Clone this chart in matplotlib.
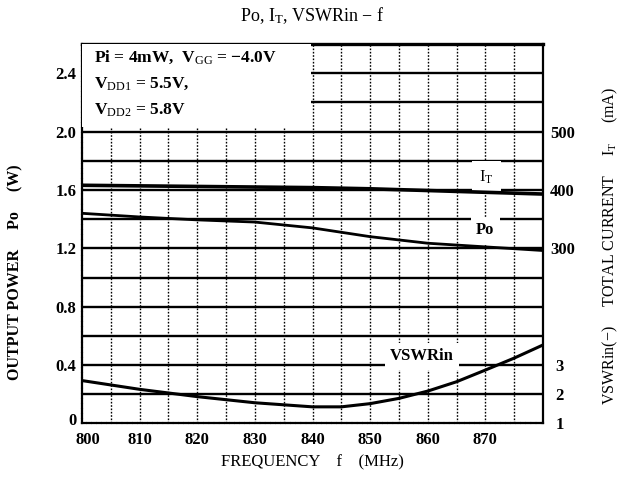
import matplotlib
matplotlib.use("Agg")
import matplotlib.pyplot as plt
import matplotlib.transforms as mtransforms
import numpy as np

# ---- data ----
freq = [800, 810, 820, 830, 840, 850, 860, 870, 880]
po_w = [1.44, 1.415, 1.395, 1.38, 1.34, 1.28, 1.235, 1.21, 1.185]
it_ma = [408, 407, 406, 405, 404, 402, 399, 396, 393]
vswr_freq = [800, 810, 820, 830, 840, 845, 850, 855, 860, 865, 870, 875, 880]
vswr = [2.47, 2.17, 1.92, 1.71, 1.57, 1.57, 1.68, 1.86, 2.11, 2.43, 2.83, 3.24, 3.69]

x_ticks = [800, 810, 820, 830, 840, 850, 860, 870]
po_ticks = [0, 0.4, 0.8, 1.2, 1.6, 2.0, 2.4]
po_tick_labels = ["0", "0.4", "0.8", "1.2", "1.6", "2.0", "2.4"]
it_ticks = [300, 400, 500]
vswr_ticks = [1, 2, 3]

plt.rcParams['font.family'] = ['Liberation Serif', 'DejaVu Serif']
plt.rcParams['mathtext.fontset'] = 'custom'
plt.rcParams['mathtext.rm'] = 'Liberation Serif'
plt.rcParams['mathtext.it'] = 'Liberation Serif:italic'
plt.rcParams['mathtext.bf'] = 'Liberation Serif:bold'

fig = plt.figure(figsize=(6.25, 4.91), dpi=100)
ax = fig.add_axes([0.1312, 0.1375, 0.7376, 0.7729])
ax.set_xlim(800, 880)
ax.set_ylim(0, 2.6)

# grid: solid horizontal every 0.2 W, dotted vertical every 5 MHz
for y in np.arange(0.2, 2.41, 0.2):
    ax.axhline(y, color='black', lw=1.7, zorder=1)
for x in np.arange(805, 880, 5):
    ax.axvline(x, color='black', lw=1.0, ls=(0, (1.2, 1.2)), zorder=1)

for s in ax.spines.values():
    s.set_linewidth(1.6)
ax.spines['top'].set_linewidth(2.4)
ax.spines['left'].set_linestyle((0, (1.5, 0.8)))
ax.spines['bottom'].set_linestyle((0, (1.5, 0.8)))

ax.plot(freq, po_w, color='black', lw=2.0, zorder=3)

ax.set_xticks(x_ticks)
ax.set_xticklabels([str(v) for v in x_ticks], fontsize=12, fontweight='bold')
ax.set_yticks(po_ticks)
ax.set_yticklabels(po_tick_labels, fontsize=12, fontweight='bold')
ax.tick_params(axis='x', length=0, pad=6)
ax.tick_params(axis='y', length=0, pad=4)

# nudge the corner labels apart like the reference
lbl0 = ax.get_yticklabels()[0]
lbl0.set_transform(lbl0.get_transform() +
                   mtransforms.ScaledTranslation(0, 3 / 72, fig.dpi_scale_trans))
lbl800 = ax.get_xticklabels()[0]
lbl800.set_transform(lbl800.get_transform() +
                     mtransforms.ScaledTranslation(4 / 72, 0, fig.dpi_scale_trans))

# total current axis (500 mA <-> 2.0 W)
ax2 = ax.twinx()
ax2.set_ylim(0, 650)
ax2.plot(freq, it_ma, color='black', lw=2.6, zorder=3)
ax2.set_yticks(it_ticks)
ax2.set_yticklabels([str(v) for v in it_ticks], fontsize=12, fontweight='bold')
ax2.tick_params(axis='y', length=0, pad=5)
for s in ax2.spines.values():
    s.set_visible(False)

# VSWR axis (1 <-> 0 W, 3 <-> 0.4 W)
ax3 = ax.twinx()
ax3.set_ylim(1, 14)
ax3.plot(vswr_freq, vswr, color='black', lw=2.2, zorder=3)
ax3.set_yticks(vswr_ticks)
ax3.set_yticklabels([str(v) for v in vswr_ticks], fontsize=12, fontweight='bold')
ax3.tick_params(axis='y', length=0, pad=9)
for s in ax3.spines.values():
    s.set_visible(False)

# condition box (white, hides grid)
box_txt = ("Pi = 4mW,  V$_\\mathrm{GG}$ = \u22124.0V\n"
           "V$_\\mathrm{DD1}$ = 5.5V,\n"
           "V$_\\mathrm{DD2}$ = 5.8V")
ax.add_patch(plt.Rectangle((800, 2.03), 39.8, 0.57, facecolor='white',
                           edgecolor='none', zorder=4))
ax.text(802, 2.57, box_txt, fontsize=12.5, fontweight='bold', va='top',
        ha='left', linespacing=1.75, zorder=5)

# curve labels
ax.text(870.2, 1.69, "I$_\\mathrm{T}$", fontsize=12, ha='center', va='center',
        bbox=dict(facecolor='white', edgecolor='none', pad=5), zorder=5)
ax.text(870.0, 1.325, "Po", fontsize=12, fontweight='bold', ha='center',
        va='center', bbox=dict(facecolor='white', edgecolor='none', pad=4),
        zorder=5)
ax.text(859.0, 0.46, "VSWRin", fontsize=12, fontweight='bold', ha='center',
        va='center', bbox=dict(facecolor='white', edgecolor='none', pad=4),
        zorder=5)

fig.text(0.5, 0.969, "Po, I$_\\mathrm{T}$, VSWRin \u2212 f", fontsize=13,
         ha='center', va='center')
fig.text(0.5, 0.059, "FREQUENCY    f    (MHz)", fontsize=12, ha='center',
         va='center')
fig.text(0.024, 0.446, "OUTPUT POWER     Po     (W)", fontsize=11.5,
         rotation=90, ha='center', va='center', fontweight='bold')
fig.text(0.976, 0.50,
         "VSWRin(\u2212)     TOTAL CURRENT     I$_\\mathrm{T}$     (mA)",
         fontsize=11.5, rotation=90, ha='center', va='center')

fig.savefig("out.png", dpi=100)
